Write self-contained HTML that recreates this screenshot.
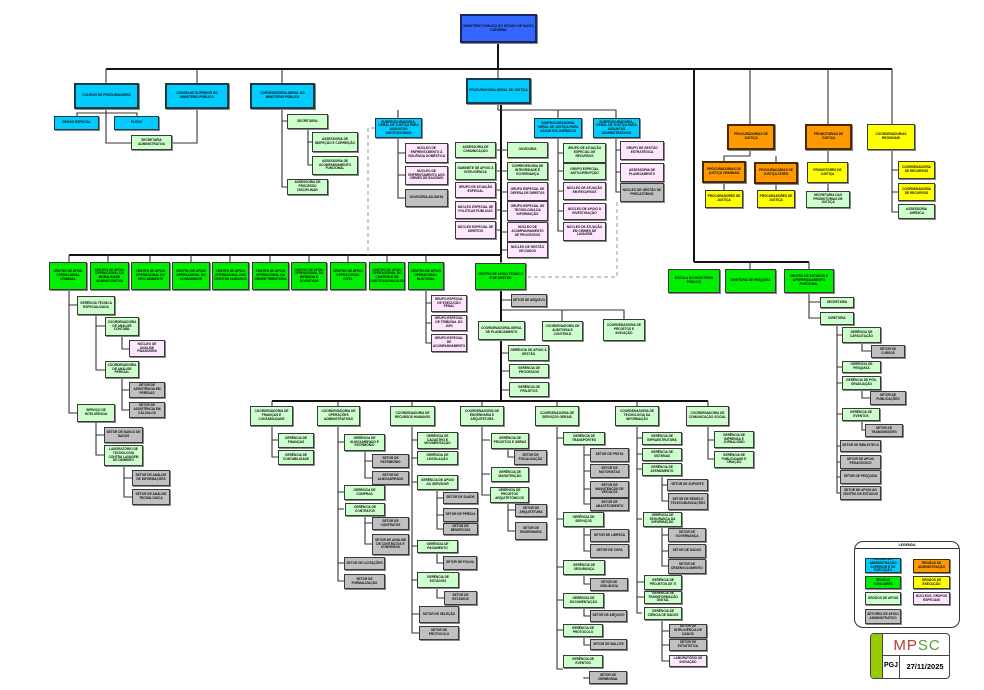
<!DOCTYPE html>
<html><head><meta charset="utf-8">
<style>
body{margin:0;background:#fff;width:984px;height:690px;overflow:hidden;position:relative;font-family:"Liberation Sans",sans-serif}
.b{position:absolute;box-sizing:border-box;border:1.3px solid #3a3a3a;box-shadow:1px 1px 0 #888;font-weight:bold;font-size:3.2px;line-height:1.15;display:flex;align-items:center;justify-content:center;text-align:center;color:#111;overflow:hidden;padding:0 1px}
.c{background:#00ccff;border:2px solid #1a3a4a}
.bl{background:#3366ff;border:2px solid #1a2560}
.g{background:#00ee00}
.lg{background:#ccffcc}
.pk{background:#ffe6ff}
.gr{background:#c0c0c0}
.or{background:#ff9900;border:2px solid #4a2a00}
.ye{background:#ffff00}
svg{position:absolute;left:0;top:0}
</style></head><body>
<svg width="984" height="690">
<g stroke="#111" stroke-width="2" fill="none">
<path d="M498 43V69M106 69H892M501 104V262M694 69V262M69 255H501M501 290V401M272 401H708M694 262H809"/>
</g>
<g stroke="#333" stroke-width="1.1" fill="none">
<path d="M106 69V83M197 69V83M282 69V83M498 69V78M750 69V124M828 69V124M892 69V124"/>
<path d="M106 109V143H131M77 116V113H137V116M197 109V143H172"/>
<path d="M282 109V187H287M282 121H287M308 129V165H312M308 142H312"/>
<path d="M498 104V110H616V118M398 110V118M558 110V118"/>
<path d="M398 138V198H405M398 153H405M398 175H405"/>
<path d="M496 150H501M496 171H501M496 190H501M496 210H501M496 230H501"/>
<path d="M501 150H507M501 171H507M501 192H507M501 211H507M501 232H507M501 250H507"/>
<path d="M558 138V231H563M558 153H563M558 171H563M558 191H563M558 211H563"/>
<path d="M616 138V192H620M616 150H620M616 172H620"/>
<path d="M69 262V255M108 262V255M150 262V255M191 262V255M230 262V255M270 262V255M309 262V255M348 262V255M387 262V255M426 262V255M501 255V263"/>
<path d="M501 300H511M501 310H624V319M562 310V321"/>
<path d="M501 353H509M501 371H509M501 390H509"/>
<path d="M272 401V406M338 401V406M412 401V406M482 401V406M557 401V406M637 401V406M708 401V406"/>
<path d="M750 262V269M809 262V269"/>
<path d="M750 150V156H724V161M776 156V162M724 183V190M776 184V190M828 150V191M892 150V212H898M892 170H898M892 192H898"/>
<path d="M69 290V413H77M69 305H77M96 315V370H105M96 326H105M122 336V349H129M122 378V410H129M122 390H129M96 422V455H104M96 435H104M124 466V497H132M124 478H132"/>
<path d="M426 290V343H431M426 303H431M426 323H431"/>
<path d="M809 293V318H820M809 302H820M837 325V493H840M837 335H842M837 367H842M837 383H842M837 414H842M837 446H840M837 462H840M837 477H840M862 343V351H871M862 390V398H870M862 421V430H865"/>
<path d="M272 426V457H278M272 440H278"/>
<path d="M338 426V581H344M338 442H344M338 492H344M338 509H344M338 563H344M365 451V478H372M365 461H372M365 516V544H372M365 523H372"/>
<path d="M412 426V633H419M412 440H417M412 458H417M412 482H417M412 546H417M412 580H417M412 614H419M437 490V529H443M437 498H443M437 515H443M437 553V563H443M437 588V598H444"/>
<path d="M482 426V495H490M482 440H490M482 474H490M508 449V457H514M508 503V531H515M508 510H515"/>
<path d="M557 426V669H563M557 438H563M557 519H563M557 567H563M557 600H563M557 630H563M584 445V504H590M584 455H590M584 471H590M584 489H590M584 527V551H590M584 535H590M584 575V584H590M584 608V616H590M584 637V645H590M584 677V678H589"/>
<path d="M637 426V613H642M637 438H642M637 454H642M637 469H642M637 519H642M637 582H644M637 597H644M662 476V501H668M662 485H667M662 527V566H668M662 535H668M662 551H668M662 620V661H669M662 631H669M662 645H669"/>
<path d="M708 426V459H714M708 440H714"/>
</g>
<g stroke="#999" stroke-width="1" stroke-dasharray="4,3" fill="none">
<path d="M375 128H368V255M617 202V277H528"/>
</g>
</svg>

<div class="b bl" style="left:460px;top:14px;width:77px;height:29px">MINISTÉRIO PÚBLICO DO ESTADO DE SANTA CATARINA</div>
<div class="b c" style="left:74px;top:83px;width:65px;height:26px">COLÉGIO DE PROCURADORES</div>
<div class="b c" style="left:165px;top:83px;width:64px;height:26px">CONSELHO SUPERIOR DO MINISTÉRIO PÚBLICO</div>
<div class="b c" style="left:250px;top:83px;width:65px;height:26px">CORREGEDORIA-GERAL DO MINISTÉRIO PÚBLICO</div>
<div class="b c" style="left:466px;top:78px;width:65px;height:26px">PROCURADORIA-GERAL DE JUSTIÇA</div>
<div class="b c" style="left:54px;top:116px;width:45px;height:14px;border-width:1.3px">ÓRGÃO ESPECIAL</div>
<div class="b c" style="left:114px;top:116px;width:45px;height:14px;border-width:1.3px">PLENO</div>
<div class="b lg" style="left:131px;top:135px;width:41px;height:15px">SECRETARIA ADMINISTRATIVA</div>
<div class="b lg" style="left:287px;top:114px;width:41px;height:15px">SECRETARIA</div>
<div class="b lg" style="left:312px;top:132px;width:46px;height:20px">ASSESSORIA DE INSPEÇÃO E CORREIÇÃO</div>
<div class="b lg" style="left:312px;top:156px;width:46px;height:19px">ASSESSORIA DE ACOMPANHAMENTO FUNCIONAL</div>
<div class="b lg" style="left:287px;top:179px;width:41px;height:16px">ASSESSORIA DE PROCESSO DISCIPLINAR</div>

<div class="b c" style="left:375px;top:118px;width:47px;height:20px;border-width:1.3px">SUBPROCURADORIA-GERAL DE JUSTIÇA PARA ASSUNTOS INSTITUCIONAIS</div>
<div class="b pk" style="left:405px;top:143px;width:43px;height:20px">NÚCLEO DE ENFRENTAMENTO À VIOLÊNCIA DOMÉSTICA</div>
<div class="b pk" style="left:405px;top:166px;width:43px;height:19px">NÚCLEO DE ENFRENTAMENTO AOS CRIMES DE RACISMO</div>
<div class="b gr" style="left:405px;top:189px;width:43px;height:18px">OUVIDORIA ADJUNTA</div>
<div class="b lg" style="left:455px;top:142px;width:41px;height:16px">ASSESSORIA DE COMUNICAÇÃO</div>
<div class="b lg" style="left:455px;top:162px;width:41px;height:18px">GABINETE DE APOIO À INTELIGÊNCIA</div>
<div class="b pk" style="left:455px;top:182px;width:41px;height:16px">GRUPO DE ATUAÇÃO ESPECIAL</div>
<div class="b pk" style="left:455px;top:201px;width:41px;height:18px">NÚCLEO ESPECIAL DE POLÍTICAS PÚBLICAS</div>
<div class="b pk" style="left:455px;top:221px;width:41px;height:18px">NÚCLEO ESPECIAL DE DIREITOS</div>
<div class="b lg" style="left:507px;top:142px;width:41px;height:16px">OUVIDORIA</div>
<div class="b lg" style="left:507px;top:162px;width:41px;height:18px">CORREGEDORIA DE INTEGRIDADE E GOVERNANÇA</div>
<div class="b pk" style="left:507px;top:182px;width:41px;height:19px">GRUPO ESPECIAL DE DEFESA DE DIREITOS</div>
<div class="b pk" style="left:507px;top:201px;width:41px;height:20px">GRUPO ESPECIAL DE TECNOLOGIA DA INFORMAÇÃO</div>
<div class="b pk" style="left:507px;top:222px;width:41px;height:20px">NÚCLEO DE ACOMPANHAMENTO DE PROCESSOS</div>
<div class="b pk" style="left:507px;top:242px;width:41px;height:16px">NÚCLEO DE GESTÃO DE DADOS</div>
<div class="b c" style="left:534px;top:118px;width:48px;height:20px;border-width:1.3px">SUBPROCURADORIA-GERAL DE JUSTIÇA PARA ASSUNTOS JURÍDICOS</div>
<div class="b lg" style="left:563px;top:143px;width:43px;height:20px">GRUPO DE ATUAÇÃO ESPECIAL DE RECURSOS</div>
<div class="b lg" style="left:563px;top:163px;width:43px;height:17px">GRUPO ESPECIAL ANTICORRUPÇÃO</div>
<div class="b pk" style="left:563px;top:182px;width:43px;height:18px">NÚCLEO DE ATUAÇÃO EM RECURSOS</div>
<div class="b pk" style="left:563px;top:203px;width:43px;height:17px">NÚCLEO DE APOIO À INVESTIGAÇÃO</div>
<div class="b pk" style="left:563px;top:222px;width:43px;height:19px">NÚCLEO DE ATUAÇÃO EM CRIMES DE LAVAGEM</div>
<div class="b c" style="left:593px;top:118px;width:47px;height:20px;border-width:1.3px">SUBPROCURADORIA-GERAL DE JUSTIÇA PARA ASSUNTOS ADMINISTRATIVOS</div>
<div class="b pk" style="left:620px;top:141px;width:44px;height:19px">GRUPO DE GESTÃO ESTRATÉGICA</div>
<div class="b pk" style="left:620px;top:163px;width:44px;height:19px">ASSESSORIA DE PLANEJAMENTO</div>
<div class="b gr" style="left:620px;top:183px;width:44px;height:19px">NÚCLEO DE GESTÃO DE PRECATÓRIOS</div>

<div class="b or" style="left:727px;top:124px;width:48px;height:26px">PROCURADORIAS DE JUSTIÇA</div>
<div class="b or" style="left:805px;top:124px;width:47px;height:26px">PROMOTORIAS DE JUSTIÇA</div>
<div class="b ye" style="left:867px;top:124px;width:48px;height:26px">COORDENADORIAS REGIONAIS</div>
<div class="b or" style="left:702px;top:161px;width:44px;height:22px">PROCURADORIAS DE JUSTIÇA CRIMINAIS</div>
<div class="b or" style="left:754px;top:162px;width:44px;height:22px">PROCURADORIAS DE JUSTIÇA CÍVEIS</div>
<div class="b ye" style="left:705px;top:190px;width:38px;height:18px">PROCURADORES DE JUSTIÇA</div>
<div class="b ye" style="left:757px;top:190px;width:38px;height:18px">PROCURADORES DE JUSTIÇA</div>
<div class="b ye" style="left:807px;top:162px;width:41px;height:21px">PROMOTORES DE JUSTIÇA</div>
<div class="b lg" style="left:806px;top:191px;width:44px;height:17px">SECRETARIA DAS PROMOTORIAS DE JUSTIÇA</div>
<div class="b ye" style="left:898px;top:161px;width:37px;height:18px">COORDENADORIA DE RECURSOS</div>
<div class="b ye" style="left:898px;top:183px;width:37px;height:18px">COORDENADORIA DE RECURSOS</div>
<div class="b lg" style="left:898px;top:204px;width:37px;height:15px">ASSESSORIA JURÍDICA</div>

<div class="b g" style="left:49px;top:262px;width:38px;height:28px">CENTRO DE APOIO OPERACIONAL CRIMINAL</div>
<div class="b g" style="left:90px;top:262px;width:39px;height:28px">CENTRO DE APOIO OPERACIONAL DA MORALIDADE ADMINISTRATIVA</div>
<div class="b g" style="left:131px;top:262px;width:39px;height:28px">CENTRO DE APOIO OPERACIONAL DO MEIO AMBIENTE</div>
<div class="b g" style="left:172px;top:262px;width:38px;height:28px">CENTRO DE APOIO OPERACIONAL DO CONSUMIDOR</div>
<div class="b g" style="left:212px;top:262px;width:37px;height:28px">CENTRO DE APOIO OPERACIONAL DOS DIREITOS HUMANOS</div>
<div class="b g" style="left:252px;top:262px;width:37px;height:28px">CENTRO DE APOIO OPERACIONAL DA ORDEM TRIBUTÁRIA</div>
<div class="b g" style="left:291px;top:262px;width:36px;height:28px">CENTRO DE APOIO OPERACIONAL DA INFÂNCIA E JUVENTUDE</div>
<div class="b g" style="left:330px;top:262px;width:36px;height:28px">CENTRO DE APOIO OPERACIONAL CÍVEL</div>
<div class="b g" style="left:369px;top:262px;width:36px;height:28px">CENTRO DE APOIO OPERACIONAL DO CONTROLE DE CONSTITUCIONALIDADE</div>
<div class="b g" style="left:408px;top:262px;width:36px;height:28px">CENTRO DE APOIO OPERACIONAL ELEITORAL</div>
<div class="b g" style="left:475px;top:263px;width:51px;height:27px">CENTRO DE APOIO TÉCNICO E DE GESTÃO</div>
<div class="b g" style="left:668px;top:269px;width:52px;height:24px">ESCOLA DO MINISTÉRIO PÚBLICO</div>
<div class="b g" style="left:725px;top:269px;width:51px;height:24px">DIRETORIA DE PESQUISA</div>
<div class="b g" style="left:784px;top:269px;width:50px;height:24px">CENTRO DE ESTUDOS E APERFEIÇOAMENTO FUNCIONAL</div>

<div class="b lg" style="left:77px;top:296px;width:38px;height:19px">GERÊNCIA TÉCNICA ESPECIALIZADA</div>
<div class="b lg" style="left:105px;top:317px;width:34px;height:19px">COORDENADORIA DE ANÁLISE CONTÁBIL</div>
<div class="b pk" style="left:129px;top:340px;width:36px;height:17px">NÚCLEO DE ANÁLISE FINANCEIRA</div>
<div class="b lg" style="left:105px;top:361px;width:34px;height:17px">COORDENADORIA DE ANÁLISE PERICIAL</div>
<div class="b gr" style="left:129px;top:382px;width:36px;height:16px">SETOR DE ASSISTÊNCIA EM PERÍCIAS</div>
<div class="b gr" style="left:129px;top:402px;width:36px;height:16px">SETOR DE ASSISTÊNCIA EM CÁLCULOS</div>
<div class="b lg" style="left:77px;top:404px;width:38px;height:18px">SERVIÇO DE INTELIGÊNCIA</div>
<div class="b gr" style="left:104px;top:427px;width:39px;height:16px">SETOR DE BANCO DE DADOS</div>
<div class="b lg" style="left:104px;top:445px;width:39px;height:21px">LABORATÓRIO DE TECNOLOGIA CONTRA LAVAGEM DE DINHEIRO</div>
<div class="b gr" style="left:132px;top:470px;width:38px;height:16px">SETOR DE ANÁLISE DE INFORMAÇÕES</div>
<div class="b gr" style="left:132px;top:489px;width:38px;height:16px">SETOR DE ANÁLISE TECNOLÓGICA</div>

<div class="b pk" style="left:431px;top:295px;width:36px;height:17px">GRUPO ESPECIAL DE EXECUÇÃO PENAL</div>
<div class="b pk" style="left:431px;top:315px;width:36px;height:16px">GRUPO ESPECIAL DE TRIBUNAL DO JÚRI</div>
<div class="b pk" style="left:431px;top:334px;width:36px;height:18px">GRUPO ESPECIAL DE ACOMPANHAMENTO</div>
<div class="b gr" style="left:511px;top:294px;width:36px;height:13px">SETOR DE ARQUIVO</div>
<div class="b lg" style="left:478px;top:321px;width:47px;height:19px">COORDENADORIA-GERAL DE PLANEJAMENTO</div>
<div class="b lg" style="left:542px;top:321px;width:41px;height:20px">COORDENADORIA DE AUDITORIA E CONTROLE</div>
<div class="b lg" style="left:603px;top:319px;width:42px;height:22px">COORDENADORIA DE PROJETOS E INOVAÇÃO</div>
<div class="b lg" style="left:508px;top:345px;width:41px;height:16px">GERÊNCIA DE APOIO À GESTÃO</div>
<div class="b lg" style="left:509px;top:364px;width:40px;height:14px">GERÊNCIA DE PROCESSOS</div>
<div class="b lg" style="left:509px;top:382px;width:40px;height:15px">GERÊNCIA DE PROJETOS</div>

<div class="b lg" style="left:250px;top:406px;width:43px;height:20px">COORDENADORIA DE FINANÇAS E CONTABILIDADE</div>
<div class="b lg" style="left:317px;top:406px;width:43px;height:20px">COORDENADORIA DE OPERAÇÕES ADMINISTRATIVAS</div>
<div class="b lg" style="left:390px;top:406px;width:45px;height:20px">COORDENADORIA DE RECURSOS HUMANOS</div>
<div class="b lg" style="left:460px;top:406px;width:44px;height:20px">COORDENADORIA DE ENGENHARIA E ARQUITETURA</div>
<div class="b lg" style="left:535px;top:406px;width:44px;height:20px">COORDENADORIA DE SERVIÇOS GERAIS</div>
<div class="b lg" style="left:615px;top:406px;width:44px;height:20px">COORDENADORIA DE TECNOLOGIA DA INFORMAÇÃO</div>
<div class="b lg" style="left:686px;top:406px;width:43px;height:20px">COORDENADORIA DE COMUNICAÇÃO SOCIAL</div>

<div class="b lg" style="left:278px;top:433px;width:36px;height:15px">GERÊNCIA DE FINANÇAS</div>
<div class="b lg" style="left:278px;top:450px;width:36px;height:15px">GERÊNCIA DE CONTABILIDADE</div>

<div class="b lg" style="left:344px;top:434px;width:41px;height:17px">GERÊNCIA DE ALMOXARIFADO E PATRIMÔNIO</div>
<div class="b gr" style="left:372px;top:454px;width:37px;height:14px">SETOR DE PATRIMÔNIO</div>
<div class="b gr" style="left:372px;top:471px;width:37px;height:14px">SETOR DE ALMOXARIFADO</div>
<div class="b lg" style="left:344px;top:485px;width:41px;height:15px">GERÊNCIA DE COMPRAS</div>
<div class="b lg" style="left:345px;top:503px;width:40px;height:13px">GERÊNCIA DE CONTRATOS</div>
<div class="b gr" style="left:372px;top:517px;width:37px;height:13px">SETOR DE CONTRATOS</div>
<div class="b gr" style="left:372px;top:534px;width:37px;height:21px">SETOR DE ANÁLISE DE CONTRATOS E CONVÊNIOS</div>
<div class="b gr" style="left:344px;top:557px;width:41px;height:13px">SETOR DE LICITAÇÕES</div>
<div class="b gr" style="left:344px;top:574px;width:41px;height:15px">SETOR DE FORMALIZAÇÃO</div>

<div class="b lg" style="left:417px;top:432px;width:41px;height:17px">GERÊNCIA DE CADASTRO E MOVIMENTAÇÃO</div>
<div class="b lg" style="left:417px;top:451px;width:41px;height:14px">GERÊNCIA DE LEGISLAÇÃO</div>
<div class="b lg" style="left:417px;top:475px;width:41px;height:15px">GERÊNCIA DE APOIO AO SERVIDOR</div>
<div class="b gr" style="left:443px;top:492px;width:35px;height:12px">SETOR DE SAÚDE</div>
<div class="b gr" style="left:443px;top:508px;width:35px;height:14px">SETOR DE PERÍCIA</div>
<div class="b gr" style="left:443px;top:523px;width:35px;height:12px">SETOR DE BENEFÍCIOS</div>
<div class="b lg" style="left:417px;top:540px;width:41px;height:13px">GERÊNCIA DE PAGAMENTO</div>
<div class="b gr" style="left:443px;top:556px;width:34px;height:14px">SETOR DE FOLHA</div>
<div class="b lg" style="left:417px;top:572px;width:42px;height:16px">GERÊNCIA DE ESTÁGIOS</div>
<div class="b gr" style="left:444px;top:591px;width:33px;height:14px">SETOR DE ESTÁGIOS</div>
<div class="b gr" style="left:419px;top:606px;width:40px;height:17px">SETOR DE SELEÇÃO</div>
<div class="b gr" style="left:419px;top:626px;width:40px;height:14px">SETOR DE PROTOCOLO</div>

<div class="b lg" style="left:491px;top:433px;width:38px;height:16px">GERÊNCIA DE PROJETOS E OBRAS</div>
<div class="b gr" style="left:514px;top:450px;width:33px;height:15px">SETOR DE FISCALIZAÇÃO</div>
<div class="b lg" style="left:491px;top:467px;width:38px;height:15px">GERÊNCIA DE MANUTENÇÃO</div>
<div class="b lg" style="left:490px;top:487px;width:39px;height:16px">GERÊNCIA DE PROJETOS ARQUITETÔNICOS</div>
<div class="b gr" style="left:515px;top:504px;width:32px;height:13px">SETOR DE ARQUITETURA</div>
<div class="b gr" style="left:515px;top:522px;width:32px;height:18px">SETOR DE ENGENHARIA</div>

<div class="b lg" style="left:563px;top:432px;width:42px;height:13px">GERÊNCIA DE TRANSPORTES</div>
<div class="b gr" style="left:590px;top:448px;width:39px;height:14px">SETOR DE FROTA</div>
<div class="b gr" style="left:590px;top:464px;width:39px;height:14px">SETOR DE MOTORISTAS</div>
<div class="b gr" style="left:590px;top:481px;width:39px;height:17px">SETOR DE MANUTENÇÃO DE VEÍCULOS</div>
<div class="b gr" style="left:590px;top:498px;width:39px;height:13px">SETOR DE ABASTECIMENTO</div>
<div class="b lg" style="left:563px;top:512px;width:41px;height:15px">GERÊNCIA DE SERVIÇOS</div>
<div class="b gr" style="left:590px;top:529px;width:39px;height:13px">SETOR DE LIMPEZA</div>
<div class="b gr" style="left:590px;top:544px;width:39px;height:14px">SETOR DE COPA</div>
<div class="b lg" style="left:563px;top:560px;width:42px;height:15px">GERÊNCIA DE SEGURANÇA</div>
<div class="b gr" style="left:590px;top:578px;width:38px;height:13px">SETOR DE VIGILÂNCIA</div>
<div class="b lg" style="left:563px;top:593px;width:41px;height:15px">GERÊNCIA DE DOCUMENTAÇÃO</div>
<div class="b gr" style="left:590px;top:610px;width:37px;height:12px">SETOR DE ARQUIVO</div>
<div class="b lg" style="left:563px;top:624px;width:40px;height:13px">GERÊNCIA DE PROTOCOLO</div>
<div class="b gr" style="left:590px;top:639px;width:37px;height:11px">SETOR DE MALOTE</div>
<div class="b lg" style="left:563px;top:655px;width:40px;height:13px">GERÊNCIA DE EVENTOS</div>
<div class="b gr" style="left:589px;top:671px;width:38px;height:13px">SETOR DE CERIMONIAL</div>

<div class="b lg" style="left:642px;top:432px;width:40px;height:13px">GERÊNCIA DE INFRAESTRUTURA</div>
<div class="b lg" style="left:642px;top:448px;width:40px;height:13px">GERÊNCIA DE SISTEMAS</div>
<div class="b lg" style="left:642px;top:463px;width:40px;height:13px">GERÊNCIA DE ATENDIMENTO</div>
<div class="b gr" style="left:667px;top:479px;width:41px;height:12px">SETOR DE SUPORTE</div>
<div class="b gr" style="left:668px;top:493px;width:40px;height:17px">SETOR DE REDES E TELECOMUNICAÇÕES</div>
<div class="b lg" style="left:643px;top:512px;width:39px;height:15px">GERÊNCIA DE SEGURANÇA DA INFORMAÇÃO</div>
<div class="b gr" style="left:668px;top:528px;width:38px;height:14px">SETOR DE GOVERNANÇA</div>
<div class="b gr" style="left:668px;top:544px;width:38px;height:14px">SETOR DE DADOS</div>
<div class="b gr" style="left:668px;top:559px;width:38px;height:15px">SETOR DE DESENVOLVIMENTO</div>
<div class="b lg" style="left:644px;top:575px;width:38px;height:15px">GERÊNCIA DE PROJETOS DE TI</div>
<div class="b lg" style="left:644px;top:591px;width:38px;height:13px">GERÊNCIA DE TRANSFORMAÇÃO DIGITAL</div>
<div class="b lg" style="left:644px;top:607px;width:38px;height:13px">GERÊNCIA DE CIÊNCIA DE DADOS</div>
<div class="b gr" style="left:669px;top:624px;width:38px;height:14px">SETOR DE INTELIGÊNCIA DE DADOS</div>
<div class="b gr" style="left:669px;top:639px;width:38px;height:12px">SETOR DE ESTATÍSTICA</div>
<div class="b pk" style="left:669px;top:655px;width:38px;height:12px">LABORATÓRIO DE INOVAÇÃO</div>

<div class="b lg" style="left:714px;top:431px;width:40px;height:17px">GERÊNCIA DE IMPRENSA E JORNALISMO</div>
<div class="b lg" style="left:714px;top:451px;width:40px;height:17px">GERÊNCIA DE PUBLICIDADE E CRIAÇÃO</div>

<div class="b lg" style="left:820px;top:297px;width:34px;height:11px">SECRETARIA</div>
<div class="b lg" style="left:820px;top:312px;width:34px;height:13px">DIRETORIA</div>
<div class="b lg" style="left:842px;top:327px;width:39px;height:16px">GERÊNCIA DE CAPACITAÇÃO</div>
<div class="b gr" style="left:871px;top:345px;width:34px;height:13px">SETOR DE CURSOS</div>
<div class="b lg" style="left:842px;top:361px;width:39px;height:12px">GERÊNCIA DE PESQUISA</div>
<div class="b lg" style="left:842px;top:376px;width:39px;height:14px">GERÊNCIA DE PÓS-GRADUAÇÃO</div>
<div class="b gr" style="left:870px;top:391px;width:36px;height:14px">SETOR DE PUBLICAÇÕES</div>
<div class="b lg" style="left:842px;top:408px;width:38px;height:13px">GERÊNCIA DE EVENTOS</div>
<div class="b gr" style="left:865px;top:424px;width:38px;height:13px">SETOR DE TRANSMISSÕES</div>
<div class="b gr" style="left:840px;top:440px;width:41px;height:12px">SETOR DE BIBLIOTECA</div>
<div class="b gr" style="left:840px;top:455px;width:41px;height:14px">SETOR DE APOIO PEDAGÓGICO</div>
<div class="b gr" style="left:840px;top:470px;width:41px;height:14px">SETOR DE PESQUISA</div>
<div class="b gr" style="left:840px;top:486px;width:41px;height:14px">SETOR DE APOIO AO CENTRO DE ESTUDOS</div>

<div style="position:absolute;left:854px;top:541px;width:106px;height:87px;box-sizing:border-box;border:1.3px solid #333;border-radius:9px"></div>
<div style="position:absolute;left:855px;top:548px;width:104px;border-top:1px solid #333"></div>
<div style="position:absolute;left:854px;top:543px;width:106px;text-align:center;font-size:3.5px;font-weight:bold">LEGENDA</div>
<div class="b c" style="left:865px;top:558px;width:36px;height:15px;border-width:1.5px">ÓRGÃOS DE ADMINISTRAÇÃO SUPERIOR E DE EXECUÇÃO</div>
<div class="b or" style="left:913px;top:559px;width:37px;height:14px;border-width:1.5px">ÓRGÃOS DE ADMINISTRAÇÃO</div>
<div class="b g" style="left:865px;top:576px;width:36px;height:13px">ÓRGÃOS AUXILIARES</div>
<div class="b ye" style="left:913px;top:576px;width:37px;height:13px">ÓRGÃOS DE EXECUÇÃO</div>
<div class="b lg" style="left:865px;top:592px;width:36px;height:13px">ÓRGÃOS DE APOIO</div>
<div class="b pk" style="left:913px;top:592px;width:37px;height:13px">NÚCLEOS, GRUPOS ESPECIAIS</div>
<div class="b gr" style="left:865px;top:609px;width:36px;height:15px">SETORES DE APOIO ADMINISTRATIVO</div>

<div style="position:absolute;left:870px;top:633px;width:80px;height:46px;box-sizing:border-box;border:1.3px solid #444;border-radius:4px;overflow:hidden">
<div style="position:absolute;left:0;top:0;width:11px;height:46px;background:#99cc00;border-right:1px solid #444"></div>
<div style="position:absolute;left:12px;top:21px;width:68px;border-top:1px solid #444"></div>
<div style="position:absolute;left:28px;top:21px;height:25px;border-left:1px solid #444"></div>
<div style="position:absolute;left:12px;top:3px;width:68px;text-align:center;font-size:15px;line-height:17px;letter-spacing:1px"><span style="color:#c0392b">MP</span><span style="color:#5aa02c">SC</span></div>
<div style="position:absolute;left:12px;top:28px;width:16px;text-align:center;font-size:7px;font-weight:bold">PGJ</div>
<div style="position:absolute;left:29px;top:28px;width:50px;text-align:center;font-size:7.5px;font-weight:bold">27/11/2025</div>
</div>
</body></html>
